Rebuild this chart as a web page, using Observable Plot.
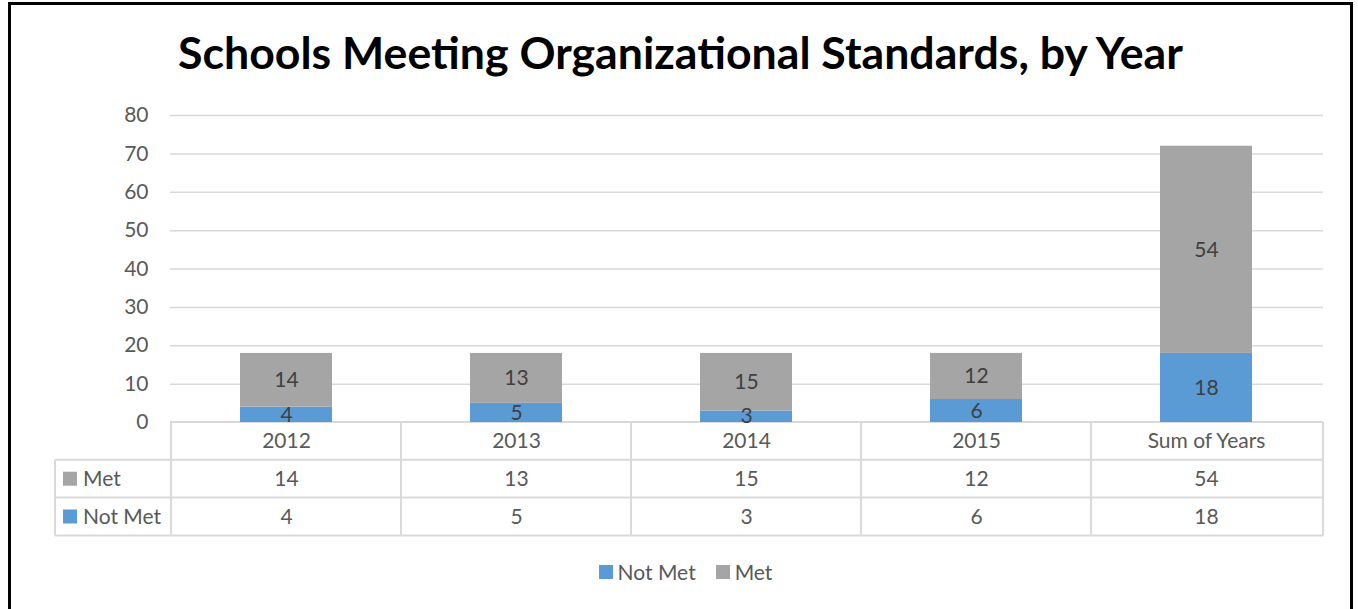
<!DOCTYPE html>
<html><head><meta charset="utf-8">
<script src="https://cdn.jsdelivr.net/npm/d3@7"></script>
<script src="https://cdn.jsdelivr.net/npm/@observablehq/plot@0.6"></script>
<style>
body{margin:0;background:#fff;font-family:Lato,sans-serif;}
#wrap{position:relative;width:1358px;height:609px;overflow:hidden;background:#fff;}
#frame{position:absolute;left:8px;top:2px;width:1345px;height:660px;border:3px solid #000;box-sizing:border-box;}
#title{position:absolute;left:0;width:1361px;top:37px;text-align:center;font-weight:bold;color:#000;white-space:nowrap;font-size:33px;line-height:33px;}
#title span{display:inline-block;}
#chart{position:absolute;left:0;top:0;}
#legend{position:absolute;top:561px;left:0;width:1371px;display:flex;justify-content:center;align-items:center;font-size:21px;color:#595959;line-height:22px;}
#legend .item{display:flex;align-items:center;margin:0 10px;}
#legend .sw{width:14px;height:14px;margin-right:5px;display:inline-block;}
</style></head>
<body>
<div id="wrap">
  <div id="frame"></div>
  <div id="title"><span>Schools Meeting Organizational Standards, by Year</span></div>
  <div id="chart"></div>
  <div id="legend"></div>
</div>
<script>
const categories = ["2012", "2013", "2014", "2015", "Sum of Years"];
const seriesNames = ["Not Met", "Met"];
const notMetValues = [4, 5, 3, 6, 18];
const metValues = [14, 13, 15, 12, 54];
const yTicks = [0, 10, 20, 30, 40, 50, 60, 70, 80];
const seriesColors = ["#5b9bd5", "#a5a5a5"];
const tableRows = ["Met", "Not Met"];

const data = categories.flatMap((c, i) => [
  {category: c, series: "Not Met", value: notMetValues[i]},
  {category: c, series: "Met", value: metValues[i]}
]);
const idx = categories.map((_, i) => i);
const FS = 21;

const chart = Plot.plot({
  width: 1358,
  height: 560,
  marginTop: 115,
  marginBottom: 138,
  marginLeft: 170,
  marginRight: 35,
  style: {fontFamily: "Lato, sans-serif", background: "transparent", overflow: "visible"},
  x: {domain: categories, paddingInner: 0.6, paddingOuter: 0.3, axis: null},
  y: {domain: [0, 80], axis: null},
  color: {domain: seriesNames, range: seriesColors},
  marks: [
    Plot.gridY(yTicks.filter(d => d > 0), {stroke: "#d9d9d9", strokeOpacity: 1, strokeWidth: 1.5}),
    Plot.axisY(yTicks, {tickSize: 0, tickPadding: 22, fontSize: FS, fill: "#595959", label: null}),
    Plot.barY(data, {x: "category", y: "value", fill: "series", order: seriesNames}),
    Plot.text(data, Plot.stackY({x: "category", y: "value", z: "series", order: seriesNames, text: "value", fontSize: FS, fill: "#404040"})),
    Plot.text(idx, {x: i => categories[i], y: () => 0, dy: 19, text: i => categories[i], fontSize: FS, fill: "#595959"}),
    Plot.text(idx, {x: i => categories[i], y: () => 0, dy: 57, text: i => metValues[i], fontSize: FS, fill: "#595959"}),
    Plot.text(idx, {x: i => categories[i], y: () => 0, dy: 95, text: i => notMetValues[i], fontSize: FS, fill: "#595959"})
  ]
});
document.getElementById("chart").appendChild(chart);

// data table grid, positioned from Plot's own scales
const xs = chart.scale("x"), ys = chart.scale("y");
const step = xs.step, bw = xs.bandwidth;
const colLeft = c => xs.apply(c) - (step - bw) / 2;
const xLeft = xs.range[0], xRight = xs.range[1];
const y0 = ys.apply(0);
const rowH = 37.8;
const headX = 55;
const svg = d3.select(chart);
const g = svg.insert("g", ":first-child").attr("stroke", "#d9d9d9").attr("stroke-width", 2).attr("fill", "none");
g.append("line").attr("x1", xLeft).attr("x2", xRight).attr("y1", y0).attr("y2", y0);
for (let r = 1; r <= 3; r++) {
  const yy = y0 + r * rowH;
  g.append("line").attr("x1", headX).attr("x2", xRight).attr("y1", yy).attr("y2", yy);
}
categories.forEach(c => {
  const xx = colLeft(c);
  g.append("line").attr("x1", xx).attr("x2", xx).attr("y1", y0).attr("y2", y0 + 3 * rowH);
});
g.append("line").attr("x1", xRight).attr("x2", xRight).attr("y1", y0).attr("y2", y0 + 3 * rowH);
g.append("line").attr("x1", headX).attr("x2", headX).attr("y1", y0 + rowH).attr("y2", y0 + 3 * rowH);

const colorScale = chart.scale("color");
tableRows.forEach((name, r) => {
  const cy = y0 + (r + 1.5) * rowH;
  svg.append("rect").attr("x", 63).attr("y", cy - 7).attr("width", 14).attr("height", 14)
    .attr("fill", colorScale.apply(name));
  svg.append("text").attr("x", 83).attr("y", cy).attr("dy", "0.35em").attr("text-anchor", "start")
    .attr("font-size", FS).attr("fill", "#595959").attr("font-family", "Lato, sans-serif").text(name);
});

// legend
const legend = d3.select("#legend");
seriesNames.forEach(name => {
  const it = legend.append("div").attr("class", "item");
  it.append("span").attr("class", "sw").style("background", colorScale.apply(name));
  it.append("span").text(name);
});

// fit title width to the reference width
const span = document.querySelector("#title span");
const w = span.getBoundingClientRect().width;
const fs = 33 * 1005 / w;
const title = document.getElementById("title");
title.style.fontSize = fs + "px";
title.style.lineHeight = fs + "px";
title.style.top = (70 - 0.887 * fs) + "px";
</script>
</body></html>
